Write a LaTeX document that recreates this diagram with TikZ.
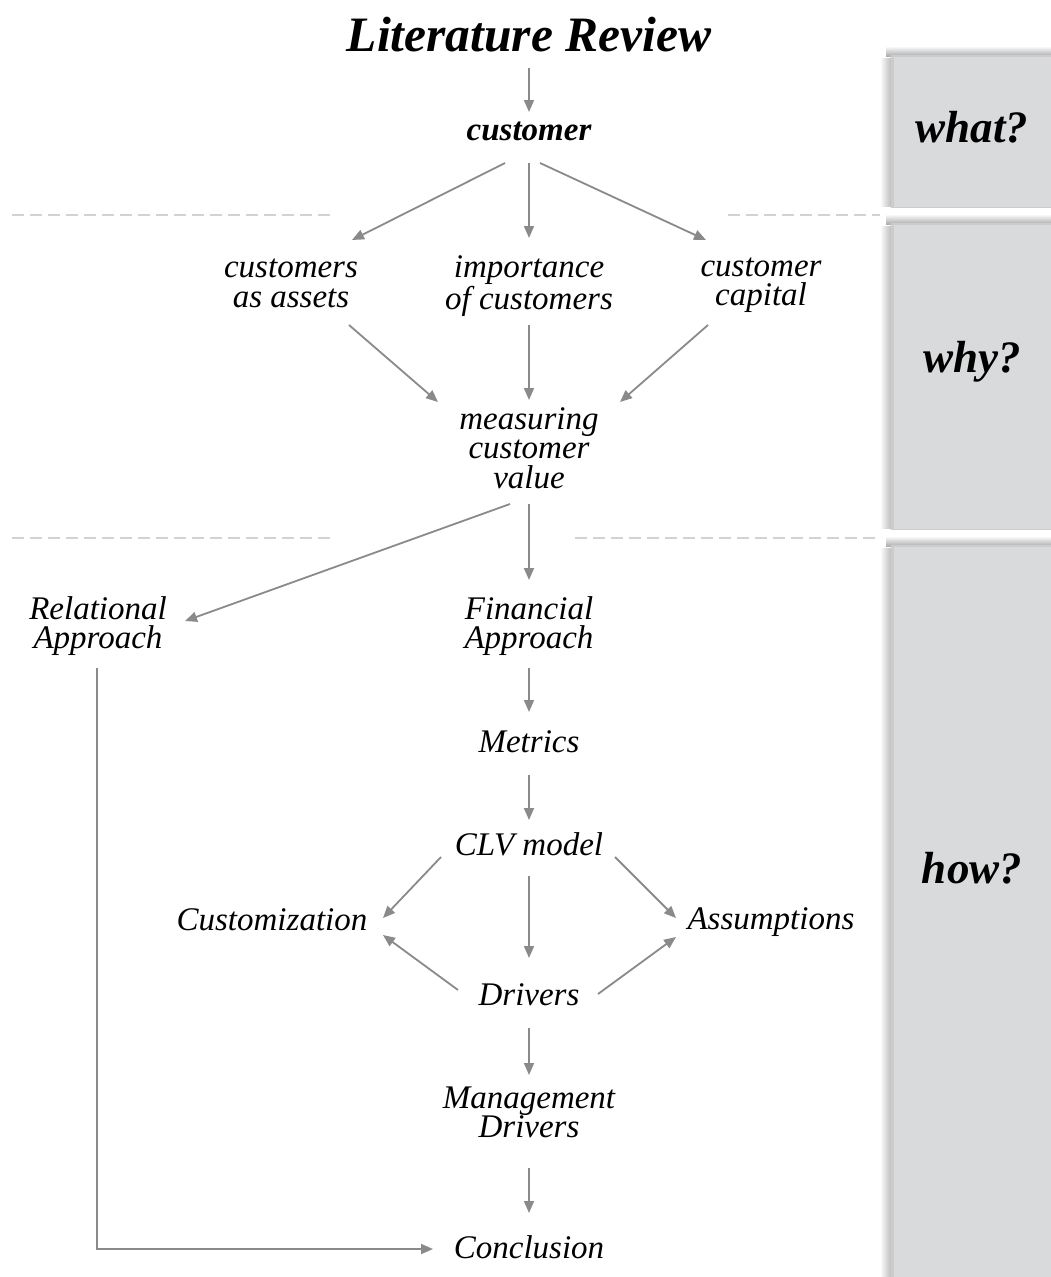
\documentclass[tikz,border=0pt]{standalone}
\usepackage{fontspec}
\setmainfont{Liberation Serif}
\usetikzlibrary{arrows.meta}
\definecolor{arrgray}{HTML}{8A8A8A}
\definecolor{panelgray}{HTML}{D9DADB}
\definecolor{dashgray}{HTML}{D2D2D2}
\newcommand{\ls}{\rule[-4pt]{0pt}{25pt}}
\begin{document}
\begin{tikzpicture}[x=1pt,y=-1pt,
  arr/.style={draw=arrgray,line width=1.8pt,-{Triangle[length=12pt,width=10pt]}},
  lbl/.style={inner sep=0pt,align=center,font=\fontsize{33}{29.5}\selectfont\itshape},
  blbl/.style={inner sep=0pt,align=center,font=\fontsize{33}{30}\selectfont\bfseries\itshape},
  ttl/.style={inner sep=0pt,font=\fontsize{49.5}{50}\selectfont\bfseries\itshape},
  qst/.style={inner sep=0pt,font=\fontsize{45}{46}\selectfont\bfseries\itshape},
  sep/.style={draw=dashgray,line width=1.5pt,dash pattern=on 12pt off 6pt}]
\useasboundingbox (0,0) rectangle (1051,1277);
\fill[white] (0,0) rectangle (1051,1277);
% panels with soft shadows
\foreach \ya/\yb in {55/208,223/530,545/1290}{
  \shade[left color=white,right color=black!28] (880,\ya+3) rectangle (892,\yb-2);
  \shade[top color=white,bottom color=black!32] (886,\ya-9) rectangle (1051,\ya+1);
  \fill[black!20] (891,\ya) rectangle (1051,\yb);
  \fill[panelgray] (894,\ya+2) rectangle (1051,\yb-1);
}
\node[qst] (qwhat) at (972,127) {what?};
\node[qst] (qwhy) at (972,362) {why?};
\node[qst] (qhow) at (972,868) {how?};
% separators
\draw[sep] (12,215) -- (330,215);
\draw[sep] (728,215) -- (880,215);
\draw[sep] (12,538) -- (330,538);
\draw[sep] (575,538) -- (880,538);
% nodes
\node[ttl] (title) at (529,35) {Literature Review};
\node[blbl] (cust) at (529,132) {\ls customer};
\node[lbl] (assets) at (291,284) {\ls customers\\\ls as assets};
\node[lbl] (import) at (529,286) {\ls importance\\\ls of customers};
\node[lbl] (capital) at (761,284) {\ls customer\\\ls capital};
\node[lbl] (meas) at (529,450) {\ls measuring\\\ls customer\\\ls value};
\node[lbl] (relnode) at (98,626) {\ls Relational\\\ls Approach};
\node[lbl] (fin) at (529,626) {\ls Financial\\\ls Approach};
\node[lbl] (metrics) at (529,744) {\ls Metrics};
\node[lbl] (clv) at (529,846) {\ls CLV model};
\node[lbl] (custom) at (272,922) {\ls Customization};
\node[lbl] (assump) at (771,922) {\ls Assumptions};
\node[lbl] (drivers) at (529,997) {\ls Drivers};
\node[lbl] (mgmt) at (529,1114) {\ls Management\\\ls Drivers};
\node[lbl] (concl) at (529,1249) {\ls Conclusion};
% connectors
\draw[arr] ([shift={(0,33)}]title.center) -- ([shift={(0,-20)}]cust.center);
\draw[arr] ([shift={(-24,31)}]cust.center) -- ([shift={(61,-44)}]assets.center);
\draw[arr] ([shift={(0,31)}]cust.center) -- ([shift={(0,-48)}]import.center);
\draw[arr] ([shift={(11,31)}]cust.center) -- ([shift={(-55,-44)}]capital.center);
\draw[arr] ([shift={(58,41)}]assets.center) -- ([shift={(-91,-48)}]meas.center);
\draw[arr] ([shift={(0,39)}]import.center) -- ([shift={(0,-50)}]meas.center);
\draw[arr] ([shift={(-53,41)}]capital.center) -- ([shift={(91,-48)}]meas.center);
\draw[arr] ([shift={(-19,54)}]meas.center) -- ([shift={(87,-5)}]relnode.center);
\draw[arr] ([shift={(0,54)}]meas.center) -- ([shift={(0,-46)}]fin.center);
\draw[arr] ([shift={(0,42)}]fin.center) -- ([shift={(0,-32)}]metrics.center);
\draw[arr] ([shift={(0,31)}]metrics.center) -- ([shift={(0,-26)}]clv.center);
\draw[arr] ([shift={(-88,11)}]clv.center) -- ([shift={(111,-4)}]custom.center);
\draw[arr] ([shift={(0,30)}]clv.center) -- ([shift={(0,-39)}]drivers.center);
\draw[arr] ([shift={(86,11)}]clv.center) -- ([shift={(-95,-4)}]assump.center);
\draw[arr] ([shift={(-71,-7)}]drivers.center) -- ([shift={(111,13)}]custom.center);
\draw[arr] ([shift={(69,-3)}]drivers.center) -- ([shift={(-95,15)}]assump.center);
\draw[arr] ([shift={(0,31)}]drivers.center) -- ([shift={(0,-39)}]mgmt.center);
\draw[arr] ([shift={(0,54)}]mgmt.center) -- ([shift={(0,-36)}]concl.center);
\draw[arr] ([shift={(-1,42)}]relnode.center) |- ([shift={(-96,0)}]concl.center);
\end{tikzpicture}
\end{document}
